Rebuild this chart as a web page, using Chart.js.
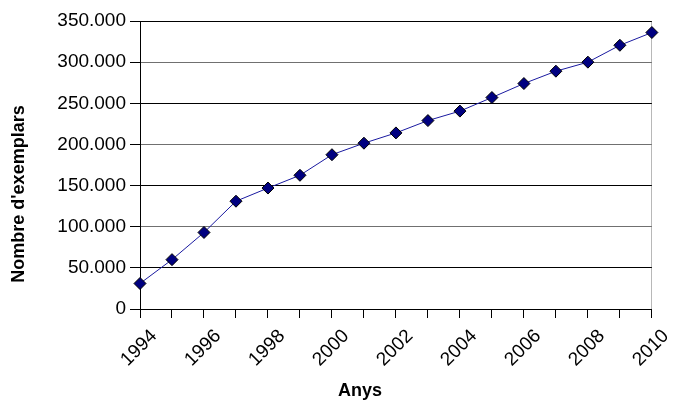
<!DOCTYPE html>
<html>
<head>
<meta charset="utf-8">
<script src="https://cdn.jsdelivr.net/npm/chart.js@4/dist/chart.umd.min.js"></script>
<style>
  html, body { margin: 0; padding: 0; background: #fff; }
  #wrap { width: 675px; height: 401px; }
</style>
</head>
<body>
<div id="wrap"><canvas id="chart"></canvas></div>
<script>
const years = ['1994', '1995', '1996', '1997', '1998', '1999', '2000', '2001', '2002',
  '2003', '2004', '2005', '2006', '2007', '2008', '2009', '2010'];
const exemplars = [31000, 60000, 93000, 131000, 147000, 162500, 187500, 201500, 214000,
  229000, 240500, 257000, 274000, 289000, 300000, 320500, 336000];
const yMax = 350000;
const yStep = 50000;
const xTitle = 'Anys';
const yTitle = "Nombre d'exemplars";

const font = 'Liberation Sans, Arial, sans-serif';

function dotted(v) {
  return Math.round(v).toString().replace(/\B(?=(\d{3})+(?!\d))/g, '.');
}

// axis titles sit off-centre in the original, so they are drawn by hand
const axisTitles = {
  id: 'axisTitles',
  afterDraw(chart) {
    const { ctx } = chart;
    ctx.save();
    ctx.fillStyle = '#000';
    ctx.font = `bold 18px ${font}`;
    ctx.textAlign = 'center';
    ctx.textBaseline = 'alphabetic';
    ctx.fillText(xTitle, 360, 396);

    ctx.translate(24, 194);
    ctx.rotate(-Math.PI / 2);
    ctx.fillText(yTitle, 0, 0);
    ctx.restore();
  },
};

new Chart(document.getElementById('chart'), {
  type: 'line',
  data: {
    labels: years,
    datasets: [
      {
        label: yTitle,
        data: exemplars,
        borderColor: '#1a1aa0',
        borderWidth: 1,
        pointStyle: 'rectRot',
        pointRadius: 6,
        pointBackgroundColor: '#000080',
        pointBorderColor: '#000000',
        pointBorderWidth: 1,
        tension: 0,
        fill: false,
      },
    ],
  },
  options: {
    responsive: true,
    maintainAspectRatio: false,
    animation: false,
    layout: {
      padding: { left: 4, right: 22, top: 21, bottom: 3 },
    },
    plugins: {
      legend: { display: false },
      tooltip: { enabled: false },
    },
    scales: {
      x: {
        offset: false,
        grid: {
          color: (ctx) => (ctx.index === years.length - 1 ? '#b8b8b8' : 'rgba(0,0,0,0)'),
          lineWidth: 1,
          tickColor: '#000',
          tickLength: 9,
        },
        border: { color: '#000', width: 1 },
        ticks: {
          autoSkip: false,
          maxRotation: 45,
          minRotation: 45,
          color: '#000',
          font: { family: font, size: 19 },
          padding: 7,
          labelOffset: 14,
          callback: (value, index) => (index % 2 === 0 ? years[index] : ''),
        },
        afterFit: (scale) => { scale.height = 89; },
      },
      y: {
        min: 0,
        max: yMax,
        grid: {
          color: (ctx) => ((ctx.tick.value / yStep) % 2 === 1 ? '#000' : '#707070'),
          lineWidth: 1,
          tickColor: '#000',
          tickLength: 10,
        },
        border: { color: '#000', width: 1 },
        ticks: {
          stepSize: yStep,
          color: '#000',
          font: { family: font, size: 19 },
          padding: 4,
          callback: (value) => dotted(value),
        },
        afterFit: (scale) => { scale.width = 136; },
      },
    },
  },
  plugins: [axisTitles],
});
</script>
</body>
</html>
